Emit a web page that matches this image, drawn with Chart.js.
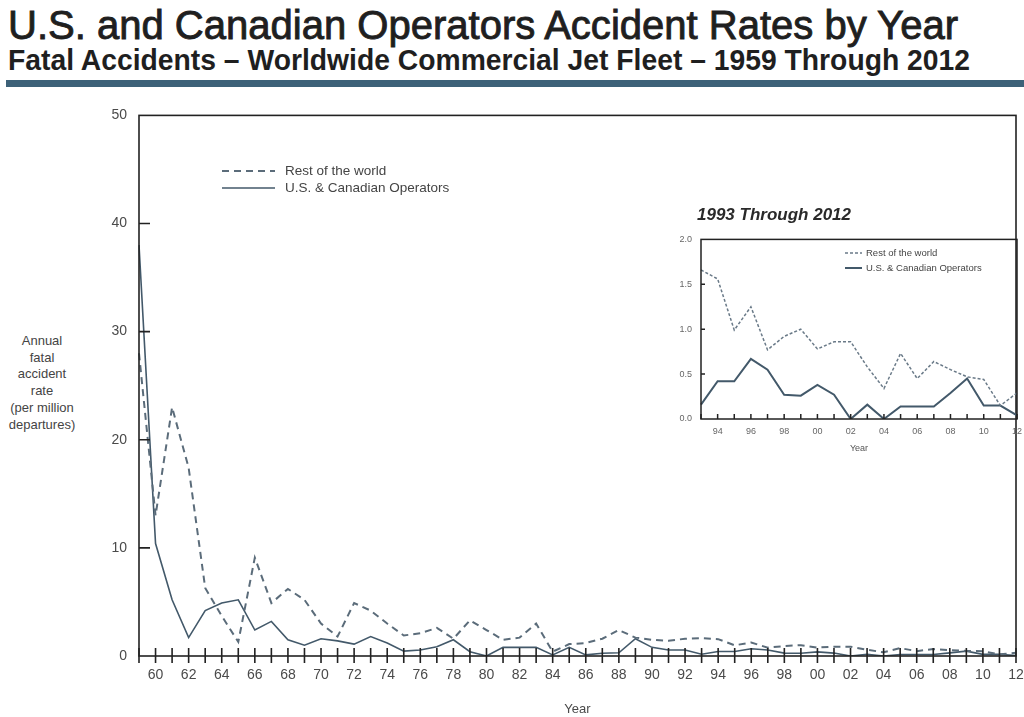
<!DOCTYPE html>
<html lang="en">
<head>
<meta charset="UTF-8">
<title>U.S. and Canadian Operators Accident Rates by Year</title>
<script src="https://cdn.jsdelivr.net/npm/chart.js@4.4.1/dist/chart.umd.min.js"></script>
<style>
  body { margin: 0; width: 1024px; height: 717px; background: #fff; position: relative; overflow: hidden;
         font-family: "Liberation Sans", Arial, sans-serif; }
  .fit { position: absolute; left: 8px; white-space: nowrap; transform-origin: left top; color: #1f1f1f; }
  .title { top: 5px; font-size: 40px; line-height: 40px; -webkit-text-stroke: 0.9px #1f1f1f; }
  .subtitle { top: 46px; font-size: 29px; line-height: 29px; font-weight: bold; }
  .rule { position: absolute; left: 6px; right: 0; top: 80px; height: 7px; background: #3d6178; }
  .ytitle { position: absolute; left: 0; top: 333px; width: 84px; text-align: center;
            font-size: 13px; line-height: 16.7px; color: #444; }
  .inset-title { position: absolute; left: 697px; top: 206px; font-size: 17px; line-height: 17px;
                 font-weight: bold; font-style: italic; color: #2a2a2a; white-space: nowrap; }
  #main { position: absolute; left: 0; top: 95px; }
  #inset { position: absolute; left: 660px; top: 225px; }
</style>
</head>
<body>
  <div class="fit title" data-fit="950">U.S. and Canadian Operators Accident Rates by Year</div>
  <div class="fit subtitle" data-fit="962">Fatal Accidents – Worldwide Commercial Jet Fleet – 1959 Through 2012</div>
  <div class="rule"></div>
  <div class="ytitle">Annual<br>fatal<br>accident<br>rate<br>(per million<br>departures)</div>

  <canvas id="main" width="1024" height="622"></canvas>
  <div class="inset-title">1993 Through 2012</div>
  <canvas id="inset" width="364" height="235"></canvas>

<script>
// years shown on the x axis
const years = [1959, 1960, 1961, 1962, 1963, 1964, 1965, 1966, 1967, 1968,
               1969, 1970, 1971, 1972, 1973, 1974, 1975, 1976, 1977, 1978,
               1979, 1980, 1981, 1982, 1983, 1984, 1985, 1986, 1987, 1988,
               1989, 1990, 1991, 1992, 1993, 1994, 1995, 1996, 1997, 1998,
               1999, 2000, 2001, 2002, 2003, 2004, 2005, 2006, 2007, 2008,
               2009, 2010, 2011, 2012];

// fatal accidents per million departures
const restOfWorld = [28, 13, 23, 17.4, 6.3, 3.7, 1.3, 9.1, 4.9, 6.2,
                     5.2, 3.0, 1.8, 4.9, 4.2, 3.0, 1.9, 2.1, 2.6, 1.6,
                     3.3, 2.4, 1.5, 1.7, 3.0, 0.4, 1.1, 1.2, 1.6, 2.4,
                     1.7, 1.5, 1.4, 1.6, 1.66, 1.56, 0.99, 1.25, 0.77, 0.92,
                     1.0, 0.78, 0.86, 0.86, 0.58, 0.34, 0.73, 0.45, 0.64, 0.55,
                     0.47, 0.44, 0.15, 0.29];

const usCanada = [38, 10.4, 5.2, 1.7, 4.2, 4.9, 5.2, 2.4, 3.2, 1.5,
                  1.0, 1.6, 1.4, 1.1, 1.8, 1.2, 0.45, 0.55, 0.85, 1.5,
                  0.4, 0, 0.8, 0.8, 0.8, 0.1, 0.8, 0.1, 0.25, 0.3,
                  1.6, 0.8, 0.55, 0.55, 0.16, 0.42, 0.42, 0.67, 0.55, 0.27,
                  0.26, 0.38, 0.27, 0.0, 0.16, 0.0, 0.14, 0.14, 0.14, 0.29,
                  0.45, 0.15, 0.15, 0.04];

const mainYTicks = { min: 0, max: 50, step: 10 };
const insetYTicks = { min: 0, max: 2, step: 0.5 };
const insetFrom = years.indexOf(1993);

const seriesNames = ['Rest of the world', 'U.S. & Canadian Operators'];

// squeeze the heading lines to the width they have in the original
document.querySelectorAll('[data-fit]').forEach(el => {
    const w = el.getBoundingClientRect().width;
    el.style.transform = 'scaleX(' + (el.dataset.fit / w) + ')';
});

// frame, ticks crossing the axis, and a legend placed by hand
const frameTicks = {
    id: 'frameTicks',
    afterDatasetsDraw(chart, args, o) {
        const { ctx, chartArea: a, scales: { x, y } } = chart;
        ctx.save();
        ctx.strokeStyle = '#222';
        ctx.lineWidth = o.width;
        ctx.setLineDash([]);
        ctx.strokeRect(a.left, a.top, a.right - a.left, a.bottom - a.top);

        ctx.beginPath();
        x.ticks.forEach((t, i) => {
            const px = x.getPixelForTick(i);
            ctx.moveTo(px, a.bottom - o.xUp);
            ctx.lineTo(px, a.bottom + o.xDown);
        });
        y.ticks.forEach((t, i) => {
            if (t.value <= y.min || t.value >= y.max) return;
            const py = y.getPixelForTick(i);
            ctx.moveTo(a.left, py);
            ctx.lineTo(a.left + o.yIn, py);
        });
        ctx.stroke();

        const lg = o.legend;
        ctx.font = lg.font;
        ctx.fillStyle = '#444';
        ctx.textBaseline = 'middle';
        chart.data.datasets.forEach((ds, i) => {
            const ly = lg.y + i * lg.rowH;
            ctx.strokeStyle = ds.borderColor;
            ctx.lineWidth = ds.borderWidth;
            ctx.setLineDash(ds.borderDash || []);
            ctx.beginPath();
            ctx.moveTo(lg.x, ly);
            ctx.lineTo(lg.x + lg.len, ly);
            ctx.stroke();
            ctx.fillText(ds.label, lg.x + lg.len + lg.gap, ly);
        });
        ctx.restore();
    }
};

function yearLabel(value) {
    const yr = this.getLabelForValue(value);
    return yr % 2 === 0 ? String(yr).slice(2) : '';
}

new Chart(document.getElementById('main'), {
    type: 'line',
    data: {
        labels: years,
        datasets: [{
            label: seriesNames[0],
            data: restOfWorld,
            borderColor: '#5b6c7a',
            borderWidth: 2,
            borderDash: [7, 5],
            pointRadius: 0,
            tension: 0
        }, {
            label: seriesNames[1],
            data: usCanada,
            borderColor: '#43596a',
            borderWidth: 1.6,
            pointRadius: 0,
            tension: 0
        }]
    },
    options: {
        responsive: false,
        animation: false,
        layout: { padding: { top: 18, right: 8, left: 0, bottom: 0 } },
        plugins: {
            legend: { display: false },
            tooltip: { enabled: false },
            frameTicks: {
                width: 1.6, xUp: 8, xDown: 7, yIn: 11,
                legend: { x: 222, y: 76, len: 53, gap: 10, rowH: 17, font: '13.5px "Liberation Sans", Arial, sans-serif' }
            }
        },
        scales: {
            x: {
                offset: false,
                grid: { display: false, drawTicks: false },
                border: { display: false },
                ticks: {
                    autoSkip: false, maxRotation: 0, minRotation: 0, padding: 11,
                    color: '#4a4a4a', font: { size: 14, family: '"Liberation Sans", Arial, sans-serif' },
                    callback: yearLabel
                },
                title: { display: true, text: 'Year', color: '#4a4a4a', padding: 0,
                         font: { size: 13, family: '"Liberation Sans", Arial, sans-serif' } },
                afterFit(scale) { scale.height = 61; scale.paddingLeft = 0; scale.paddingRight = 0; }
            },
            y: {
                min: mainYTicks.min, max: mainYTicks.max,
                grid: { display: false, drawTicks: false },
                border: { display: false },
                ticks: {
                    stepSize: mainYTicks.step, padding: 12,
                    color: '#4a4a4a', font: { size: 14, family: '"Liberation Sans", Arial, sans-serif' }
                },
                afterFit(scale) { scale.width = 139; }
            }
        }
    },
    plugins: [frameTicks]
});

new Chart(document.getElementById('inset'), {
    type: 'line',
    data: {
        labels: years.slice(insetFrom),
        datasets: [{
            label: seriesNames[0],
            data: restOfWorld.slice(insetFrom),
            borderColor: '#6a7a88',
            borderWidth: 1.5,
            borderDash: [3, 2],
            pointRadius: 0,
            tension: 0
        }, {
            label: seriesNames[1],
            data: usCanada.slice(insetFrom),
            borderColor: '#43596a',
            borderWidth: 2,
            pointRadius: 0,
            tension: 0
        }]
    },
    options: {
        responsive: false,
        animation: false,
        layout: { padding: { top: 14, right: 7, left: 0, bottom: 0 } },
        plugins: {
            legend: { display: false },
            tooltip: { enabled: false },
            frameTicks: {
                width: 1.5, xUp: 5, xDown: 0, yIn: 4,
                legend: { x: 185, y: 28, len: 17, gap: 4, rowH: 15, font: '9.5px "Liberation Sans", Arial, sans-serif' }
            }
        },
        scales: {
            x: {
                offset: false,
                grid: { display: false, drawTicks: false },
                border: { display: false },
                ticks: {
                    autoSkip: false, maxRotation: 0, minRotation: 0, padding: 7,
                    color: '#666', font: { size: 9, family: '"Liberation Sans", Arial, sans-serif' },
                    callback: yearLabel
                },
                title: { display: true, text: 'Year', color: '#555', padding: { top: 0, bottom: 6 },
                         font: { size: 9, family: '"Liberation Sans", Arial, sans-serif' } },
                afterFit(scale) { scale.height = 41; scale.paddingLeft = 0; scale.paddingRight = 0; }
            },
            y: {
                min: insetYTicks.min, max: insetYTicks.max,
                grid: { display: false, drawTicks: false },
                border: { display: false },
                ticks: {
                    stepSize: insetYTicks.step, padding: 9,
                    color: '#666', font: { size: 9, family: '"Liberation Sans", Arial, sans-serif' },
                    callback: v => v.toFixed(1)
                },
                afterFit(scale) { scale.width = 41; }
            }
        }
    },
    plugins: [frameTicks]
});
</script>
</body>
</html>
